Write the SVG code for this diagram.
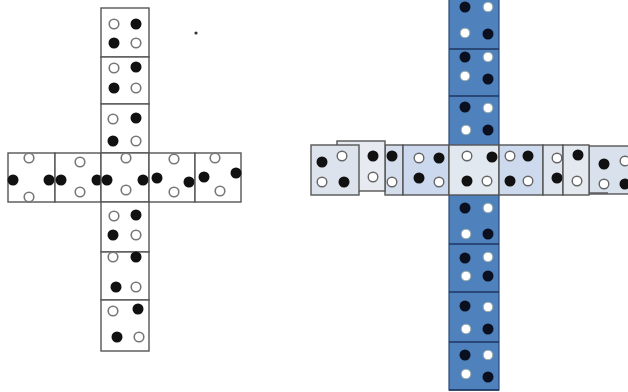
<svg xmlns="http://www.w3.org/2000/svg" width="628" height="392" viewBox="0 0 628 392">
<style>
.c{fill:#fff;stroke:#555;stroke-width:1.4}
.f{fill:#111}
.o{fill:#fff;stroke:#777;stroke-width:1.6}
.bc{fill:#4f81bd;stroke:#2a4a78;stroke-width:1.2}
.bd{stroke:#1c3560;stroke-width:1.6}
.bf{fill:#0b1020}
.bo{fill:#fff;stroke:#9aa;stroke-width:1}
.s{stroke:#555;stroke-width:1.4}
.ro{fill:#fff;stroke:#666;stroke-width:1.4}
</style>
<g id="left-cross">
<g id="L-top1"><rect class="c" x="101" y="8" width="48" height="49"/>
<circle class="o" cx="114" cy="24" r="4.8"/><circle class="f" cx="136" cy="24" r="5.5"/><circle class="f" cx="114" cy="43" r="5.5"/><circle class="o" cx="136" cy="43" r="4.8"/></g>
<g id="L-top2"><rect class="c" x="101" y="57" width="48" height="47"/>
<circle class="o" cx="114" cy="68" r="4.8"/><circle class="f" cx="136" cy="67" r="5.5"/><circle class="f" cx="114" cy="88" r="5.5"/><circle class="o" cx="136" cy="88" r="4.8"/></g>
<g id="L-top3"><rect class="c" x="101" y="104" width="48" height="49"/>
<circle class="o" cx="113" cy="119" r="4.8"/><circle class="f" cx="136" cy="118" r="5.5"/><circle class="f" cx="113" cy="141" r="5.5"/><circle class="o" cx="136" cy="141" r="4.8"/></g>
<g id="L-row1"><rect class="c" x="8" y="153" width="47" height="49"/>
<circle class="o" cx="29" cy="158" r="4.8"/><circle class="f" cx="13" cy="180" r="5.5"/><circle class="o" cx="29" cy="197" r="4.8"/><circle class="f" cx="49" cy="180" r="5.5"/></g>
<g id="L-row2"><rect class="c" x="55" y="153" width="46" height="49"/>
<circle class="f" cx="61" cy="180" r="5.5"/><circle class="o" cx="80" cy="162" r="4.8"/><circle class="f" cx="97" cy="180" r="5.5"/><circle class="o" cx="80" cy="192" r="4.8"/></g>
<g id="L-row3"><rect class="c" x="101" y="153" width="48" height="49"/>
<circle class="f" cx="107" cy="180" r="5.5"/><circle class="o" cx="126" cy="158" r="4.8"/><circle class="f" cx="143" cy="180" r="5.5"/><circle class="o" cx="126" cy="190" r="4.8"/></g>
<g id="L-row4"><rect class="c" x="149" y="153" width="46" height="49"/>
<circle class="f" cx="157" cy="178" r="5.5"/><circle class="o" cx="174" cy="159" r="4.8"/><circle class="f" cx="189" cy="182" r="5.5"/><circle class="o" cx="174" cy="192" r="4.8"/></g>
<g id="L-row5"><rect class="c" x="195" y="153" width="46" height="49"/>
<circle class="f" cx="204" cy="177" r="5.5"/><circle class="o" cx="215" cy="158" r="4.8"/><circle class="f" cx="236" cy="173" r="5.5"/><circle class="o" cx="220" cy="191" r="4.8"/></g>
<g id="L-bot1"><rect class="c" x="101" y="202" width="48" height="50"/>
<circle class="o" cx="114" cy="216" r="4.8"/><circle class="f" cx="136" cy="215" r="5.5"/><circle class="f" cx="113" cy="235" r="5.5"/><circle class="o" cx="136" cy="235" r="4.8"/></g>
<g id="L-bot2"><rect class="c" x="101" y="252" width="48" height="48"/>
<circle class="o" cx="113" cy="257" r="4.8"/><circle class="f" cx="136" cy="257" r="5.5"/><circle class="f" cx="116" cy="287" r="5.5"/><circle class="o" cx="136" cy="287" r="4.8"/></g>
<g id="L-bot3"><rect class="c" x="101" y="300" width="48" height="51"/>
<circle class="o" cx="113" cy="311" r="4.8"/><circle class="f" cx="138" cy="309" r="5.5"/><circle class="f" cx="117" cy="337" r="5.5"/><circle class="o" cx="139" cy="337" r="4.8"/></g>
<circle cx="196" cy="33" r="1.6" fill="#333"/>
</g>
<g id="right-cross">
<g id="R-column">
<rect class="bc" x="449" y="-2" width="50" height="392"/>
<line class="bd" x1="449" y1="49" x2="499" y2="49"/>
<line class="bd" x1="449" y1="96" x2="499" y2="96"/>
<line class="bd" x1="449" y1="244" x2="499" y2="244"/>
<line class="bd" x1="449" y1="292" x2="499" y2="292"/>
<line class="bd" x1="449" y1="342" x2="499" y2="342"/>
<line class="bd" x1="449" y1="390" x2="499" y2="390"/>
</g>
<g id="R-top1"><circle class="bf" cx="465" cy="7" r="5.5"/><circle class="bo" cx="488" cy="7" r="4.8"/><circle class="bo" cx="465" cy="33" r="4.8"/><circle class="bf" cx="488" cy="34" r="5.5"/></g>
<g id="R-top2"><circle class="bf" cx="465" cy="57" r="5.5"/><circle class="bo" cx="488" cy="57" r="4.8"/><circle class="bo" cx="465" cy="76" r="4.8"/><circle class="bf" cx="488" cy="79" r="5.5"/></g>
<g id="R-top3"><circle class="bf" cx="465" cy="107" r="5.5"/><circle class="bo" cx="488" cy="108" r="4.8"/><circle class="bo" cx="466" cy="130" r="4.8"/><circle class="bf" cx="488" cy="130" r="5.5"/></g>
<g id="R-bot1"><circle class="bf" cx="465" cy="208" r="5.5"/><circle class="bo" cx="488" cy="208" r="4.8"/><circle class="bo" cx="466" cy="234" r="4.8"/><circle class="bf" cx="488" cy="234" r="5.5"/></g>
<g id="R-bot2"><circle class="bf" cx="465" cy="258" r="5.5"/><circle class="bo" cx="488" cy="257" r="4.8"/><circle class="bo" cx="466" cy="276" r="4.8"/><circle class="bf" cx="488" cy="276" r="5.5"/></g>
<g id="R-bot3"><circle class="bf" cx="465" cy="306" r="5.5"/><circle class="bo" cx="488" cy="307" r="4.8"/><circle class="bo" cx="466" cy="329" r="4.8"/><circle class="bf" cx="488" cy="329" r="5.5"/></g>
<g id="R-bot4"><circle class="bf" cx="465" cy="355" r="5.5"/><circle class="bo" cx="488" cy="355" r="4.8"/><circle class="bo" cx="466" cy="374" r="4.8"/><circle class="bf" cx="488" cy="377" r="5.5"/></g>
<g id="R-s1"><rect class="s" x="385" y="145" width="18" height="50" fill="#d3ddec"/>
<circle class="f" cx="392" cy="156" r="5.5"/><circle class="ro" cx="392" cy="182" r="4.8"/></g>
<g id="R-s2"><rect class="s" x="403" y="145" width="46" height="50" fill="#cbd8ed"/>
<circle class="ro" cx="419" cy="158" r="4.8"/><circle class="f" cx="439" cy="158" r="5.5"/><circle class="f" cx="419" cy="178" r="5.5"/><circle class="ro" cx="439" cy="182" r="4.8"/></g>
<g id="R-center"><rect class="s" x="449" y="145" width="50" height="50" fill="#e2e8f0"/>
<circle class="ro" cx="467" cy="156" r="4.8"/><circle class="f" cx="492" cy="157" r="5.5"/><circle class="f" cx="467" cy="181" r="5.5"/><circle class="ro" cx="487" cy="181" r="4.8"/></g>
<g id="R-s4"><rect class="s" x="499" y="145" width="44" height="50" fill="#cddaee"/>
<circle class="ro" cx="510" cy="156" r="4.8"/><circle class="f" cx="528" cy="156" r="5.5"/><circle class="f" cx="510" cy="181" r="5.5"/><circle class="ro" cx="528" cy="181" r="4.8"/></g>
<g id="R-s5"><rect class="s" x="543" y="145" width="20" height="50" fill="#dfe5ee"/>
<circle class="ro" cx="557" cy="158" r="4.8"/><circle class="f" cx="557" cy="178" r="5.5"/></g>
<g id="R-s6"><rect class="s" x="589" y="146" width="45" height="48" fill="#d9e1ed"/>
<line class="s" x1="589" y1="193" x2="608" y2="193"/>
<circle class="f" cx="604" cy="164" r="5.5"/><circle class="ro" cx="625" cy="161" r="4.8"/><circle class="ro" cx="604" cy="184" r="4.8"/><circle class="f" cx="625" cy="184" r="5.5"/></g>
<g id="R-box3"><rect class="s" x="563" y="145" width="26" height="50" fill="#e4e9f0"/>
<circle class="f" cx="578" cy="155" r="5.5"/><circle class="ro" cx="577" cy="181" r="4.8"/></g>
<g id="R-box2"><rect class="s" x="337" y="141" width="48" height="50" fill="#e7ebf1"/>
<circle class="f" cx="373" cy="156" r="5.5"/><circle class="ro" cx="373" cy="177" r="4.8"/></g>
<g id="R-box1"><rect class="s" x="311" y="145" width="48" height="50" fill="#dde3ed"/>
<circle class="f" cx="322" cy="162" r="5.5"/><circle class="ro" cx="342" cy="156" r="4.8"/><circle class="ro" cx="322" cy="182" r="4.8"/><circle class="f" cx="344" cy="182" r="5.5"/></g>
</g>
</svg>
